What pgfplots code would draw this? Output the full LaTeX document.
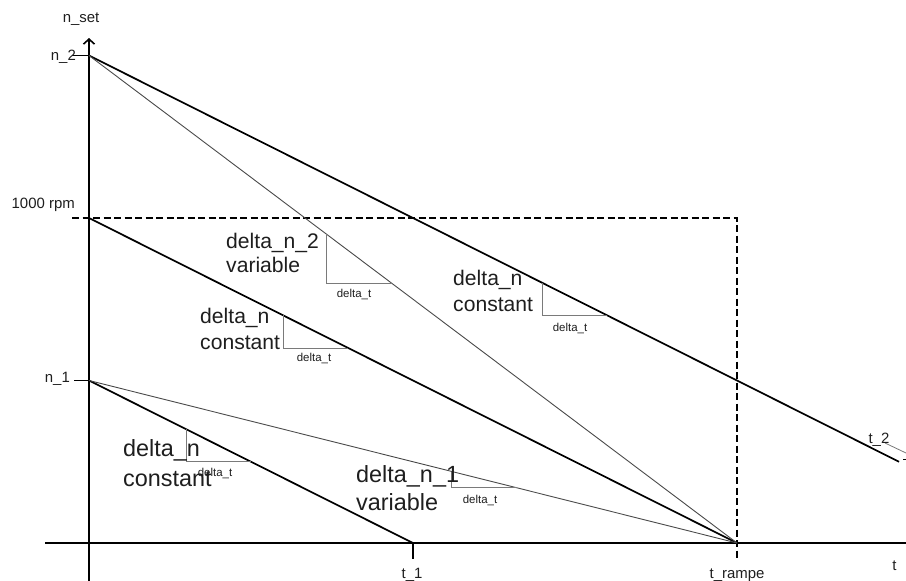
\documentclass[border=0pt]{standalone}
\usepackage{pgfplots}
\pgfplotsset{compat=1.18}
\usepackage{fontspec}
\setmainfont{Liberation Sans}
\usetikzlibrary{arrows.meta}
\definecolor{txtcol}{HTML}{1E1E1E}
\definecolor{thincol}{HTML}{4A4A4A}
\definecolor{tricol}{HTML}{7A7A7A}
\newcommand{\fbig}{\fontsize{23.5}{27}\selectfont}
\newcommand{\fmid}{\fontsize{21.2}{25}\selectfont}
\newcommand{\fmed}{\fontsize{15}{17}\selectfont}
\newcommand{\fsml}{\fontsize{11.5}{13}\selectfont}
\begin{document}
\begin{tikzpicture}
\begin{axis}[name=ax,
  scale only axis, width=906bp, height=581bp,
  xmin=-0.13735, xmax=1.26080, ymin=-0.11692, ymax=1.67077,
  hide axis, clip=false]
% axes
\addplot[black, line width=2.4bp, forget plot] coordinates {(-0.0679,0) (1.2608,0)};
\addplot[black, line width=2.4bp, -{Straight Barb[length=5bp,width=11bp,line width=1.6bp]}, forget plot] coordinates {(0,-0.11692) (0,1.5538)};
% ticks
\addplot[black, line width=1.3bp] coordinates {(-0.02623,1.5) (0,1.5)};
\addplot[black, line width=1.3bp] coordinates {(-0.02315,0.5) (0,0.5)};
\addplot[black, line width=1.3bp] coordinates {(0.5,0) (0.5,-0.04923)};
% dashed 1000 rpm / t_rampe
\addplot[black, line width=1.2bp, dash pattern=on 7bp off 3.5bp] coordinates {(-0.02623,1) (1,1) (1,-0.04923)};
% thick lines
\addplot[black, line width=1.7bp] coordinates {(0,1.5) (1.25,0.25)};
\addplot[black, line width=1.7bp] coordinates {(0,1) (1,0)};
\addplot[black, line width=1.7bp] coordinates {(0,0.5) (0.5,0)};
% thin lines
\addplot[thincol, line width=0.9bp] coordinates {(0,1.5) (1,0)};
\addplot[thincol, line width=0.9bp] coordinates {(0,0.5) (1,0)};
% slope triangles
\addplot[tricol, line width=0.8bp] coordinates {(0.15,0.35) (0.15,0.25) (0.25,0.25)};
\addplot[tricol, line width=0.8bp] coordinates {(0.30,0.70) (0.30,0.60) (0.40,0.60)};
\addplot[tricol, line width=0.8bp] coordinates {(0.3667,0.95) (0.3667,0.80) (0.4667,0.80)};
\addplot[tricol, line width=0.8bp] coordinates {(0.70,0.80) (0.70,0.70) (0.80,0.70)};
\addplot[tricol, line width=0.8bp] coordinates {(0.56,0.22) (0.56,0.17) (0.66,0.17)};
% t_2 leader
\addplot[tricol, line width=0.8bp] coordinates {(1.2284,0.3077) (1.2608,0.2769)};
\addplot[black, line width=1bp] coordinates {(1.2562,0.2554) (1.2608,0.2554)};
% axis texts
\node[txtcol, font=\fmed] at (axis cs:-0.0123,1.6130) {n\_set};
\node[txtcol, font=\fmed, anchor=east, inner sep=0pt] at (axis cs:-0.020,1.495) {n\_2};
\node[txtcol, font=\fmed, anchor=east, inner sep=0pt] at (axis cs:-0.0216,1.04) {1000 rpm};
\node[txtcol, font=\fmed, anchor=east, inner sep=0pt] at (axis cs:-0.0293,0.5046) {n\_1};
\node[txtcol, font=\fmed] at (axis cs:0.4985,-0.0985) {t\_1};
\node[txtcol, font=\fmed] at (axis cs:1.0,-0.0985) {t\_rampe};
\node[txtcol, font=\fmed] at (axis cs:1.243,-0.0700) {t};
\node[txtcol, font=\fmed] at (axis cs:1.219,0.319) {t\_2};
% big labels (lower)
\node[txtcol, font=\fbig, anchor=base west, inner sep=0pt] at (axis cs:0.05247,0.26462) {delta\_n};
\node[txtcol, font=\fbig, anchor=base west, inner sep=0pt] at (axis cs:0.05247,0.17538) {constant};
\node[txtcol, font=\fbig, anchor=base west, inner sep=0pt] at (axis cs:0.41204,0.18769) {delta\_n\_1};
\node[txtcol, font=\fbig, anchor=base west, inner sep=0pt] at (axis cs:0.41204,0.10154) {variable};
% labels (upper)
\node[txtcol, font=\fmid, anchor=base west, inner sep=0pt] at (axis cs:0.17130,0.67692) {delta\_n};
\node[txtcol, font=\fmid, anchor=base west, inner sep=0pt] at (axis cs:0.17130,0.59692) {constant};
\node[txtcol, font=\fmid, anchor=base west, inner sep=0pt] at (axis cs:0.21142,0.90769) {delta\_n\_2};
\node[txtcol, font=\fmid, anchor=base west, inner sep=0pt] at (axis cs:0.21142,0.83077) {variable};
\node[txtcol, font=\fmid, anchor=base west, inner sep=0pt] at (axis cs:0.56173,0.79077) {delta\_n};
\node[txtcol, font=\fmid, anchor=base west, inner sep=0pt] at (axis cs:0.56173,0.71077) {constant};
% small delta_t labels
\node[txtcol, font=\fsml] at (axis cs:0.19444,0.21538) {delta\_t};
\node[txtcol, font=\fsml] at (axis cs:0.34722,0.56923) {delta\_t};
\node[txtcol, font=\fsml] at (axis cs:0.40895,0.76615) {delta\_t};
\node[txtcol, font=\fsml] at (axis cs:0.74228,0.66154) {delta\_t};
\node[txtcol, font=\fsml] at (axis cs:0.60340,0.13231) {delta\_t};
\end{axis}
\pgfresetboundingbox
\path (ax.south west) rectangle (ax.north east);
\end{tikzpicture}
\end{document}
